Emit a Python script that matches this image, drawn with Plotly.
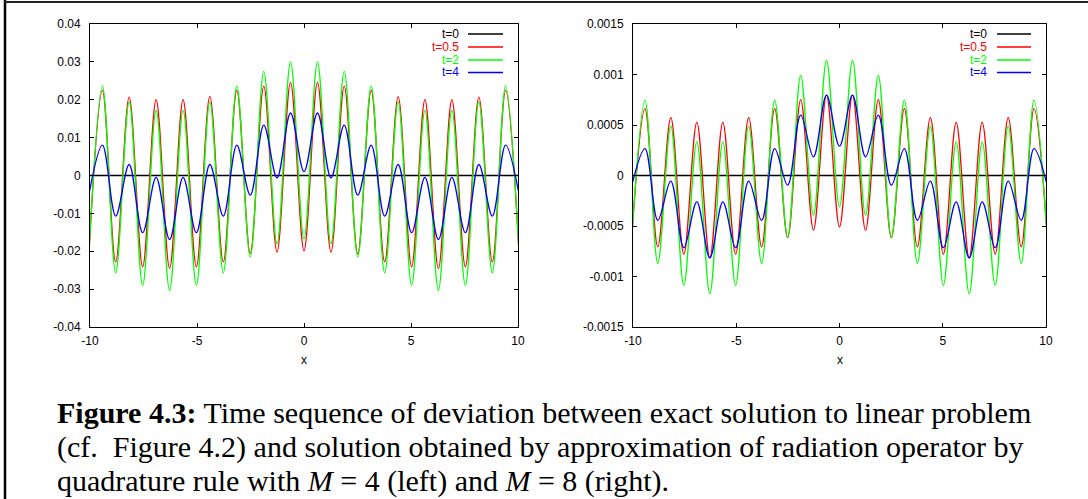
import plotly.graph_objects as go

# ---------------- data (extrema) ----------------
x_ext = [-10.05, -9.42, -8.80, -8.17, -7.54, -6.91, -6.28, -5.65, -5.03, -4.40,
         -3.77, -3.14, -2.51, -1.88, -1.26, -0.63, 0.0, 0.63, 1.26, 1.88,
         2.51, 3.14, 3.77, 4.40, 5.03, 5.65, 6.28, 6.91, 7.54, 8.17,
         8.80, 9.42, 10.05]

# left panel (M = 4)
left_t0 = [0.0] * 33
left_t05 = [-0.0205, 0.0225, -0.0228, 0.0207, -0.0241, 0.0200, -0.0245, 0.0200, -0.0241, 0.0209,
            -0.0228, 0.0225, -0.0205, 0.0236, -0.0202, 0.0246, -0.0199, 0.0246, -0.0202, 0.0236,
            -0.0207, 0.0225, -0.0228, 0.0208, -0.0241, 0.0200, -0.0246, 0.0200, -0.0241, 0.0207,
            -0.0228, 0.0225, -0.0205]
left_t2 = [-0.0205, 0.0236, -0.0257, 0.0194, -0.0290, 0.0172, -0.0303, 0.0172, -0.0290, 0.0194,
           -0.0257, 0.0236, -0.0215, 0.0275, -0.0180, 0.0300, -0.0167, 0.0300, -0.0180, 0.0275,
           -0.0215, 0.0236, -0.0257, 0.0194, -0.0290, 0.0172, -0.0303, 0.0172, -0.0290, 0.0194,
           -0.0257, 0.0236, -0.0205]
left_t4 = [-0.0050, 0.0080, -0.0107, 0.0029, -0.0151, -0.0005, -0.0169, -0.0005, -0.0151, 0.0029,
           -0.0107, 0.0080, -0.0052, 0.0133, -0.0006, 0.0165, 0.0010, 0.0165, -0.0006, 0.0133,
           -0.0052, 0.0080, -0.0107, 0.0029, -0.0151, -0.0005, -0.0169, -0.0005, -0.0151, 0.0029,
           -0.0107, 0.0080, -0.0050]

# right panel (M = 8)
right_t0 = [0.0] * 33
right_t05 = [-0.00057, 0.000663, -0.000706, 0.000574, -0.000779, 0.000525, -0.000815, 0.000525, -0.000779, 0.000574,
             -0.000706, 0.000663, -0.000614, 0.000752, -0.000541, 0.000795, -0.000508, 0.000795, -0.000541, 0.000752,
             -0.000614, 0.000663, -0.000706, 0.000574, -0.000779, 0.000525, -0.000815, 0.000525, -0.000779, 0.000574,
             -0.000706, 0.000663, -0.00057]
right_t2 = [-0.00059, 0.000746, -0.000871, 0.000488, -0.001086, 0.000333, -0.00117, 0.000333, -0.001086, 0.000488,
            -0.000871, 0.000746, -0.000614, 0.00099, -0.000393, 0.00114, -0.00031, 0.00114, -0.000393, 0.00099,
            -0.000614, 0.000746, -0.000871, 0.000488, -0.001086, 0.000333, -0.00117, 0.000333, -0.001086, 0.000488,
            -0.000871, 0.000746, -0.00059]
right_t4 = [-0.00009, 0.000267, -0.000443, -0.000056, -0.000715, -0.000261, -0.000816, -0.000261, -0.000715, -0.000056,
            -0.000443, 0.000267, -0.000096, 0.000597, 0.000185, 0.000795, 0.00029, 0.000795, 0.000185, 0.000597,
            -0.000096, 0.000267, -0.000443, -0.000056, -0.000715, -0.000261, -0.000816, -0.000261, -0.000715, -0.000056,
            -0.000443, 0.000267, -0.00009]

series_names = ["t=0", "t=0.5", "t=2", "t=4"]
series_colors = ["#000000", "#ff0000", "#00ff00", "#0000ff"]

x_tickvals = [-10, -5, 0, 5, 10]
x_ticktext = ["-10", "-5", "0", "5", "10"]
left_tickvals = [0.04, 0.03, 0.02, 0.01, 0, -0.01, -0.02, -0.03, -0.04]
left_ticktext = ["0.04", "0.03", "0.02", "0.01", "0", "-0.01", "-0.02", "-0.03", "-0.04"]
right_tickvals = [0.0015, 0.001, 0.0005, 0, -0.0005, -0.001, -0.0015]
right_ticktext = ["0.0015", "0.001", "0.0005", "0", "-0.0005", "-0.001", "-0.0015"]

caption_lines = [
    "<b>Figure 4.3:</b> Time sequence of deviation between exact solution to linear problem",
    "(cf.  Figure 4.2) and solution obtained by approximation of radiation operator by",
    "quadrature rule with <i>M</i> = 4 (left) and <i>M</i> = 8 (right).",
]

# ---------------- layout helpers ----------------
W, H = 1088, 499
def px(x):
    return x / W
def py(y):
    return 1 - y / H

fig = go.Figure()

left_series = [left_t0, left_t05, left_t2, left_t4]
right_series = [right_t0, right_t05, right_t2, right_t4]

for vals, name, col in zip(left_series, series_names, series_colors):
    fig.add_trace(go.Scatter(x=x_ext, y=vals, mode="lines", name=name,
                             line=dict(color=col, width=1.3, shape="spline", smoothing=1.0),
                             xaxis="x", yaxis="y", showlegend=False, hoverinfo="skip"))
for vals, name, col in zip(right_series, series_names, series_colors):
    fig.add_trace(go.Scatter(x=x_ext, y=vals, mode="lines", name=name,
                             line=dict(color=col, width=1.3, shape="spline", smoothing=1.0),
                             xaxis="x2", yaxis="y2", showlegend=False, hoverinfo="skip"))

tickfont = dict(family="Liberation Sans, Arial, sans-serif", size=12, color="black")
axis_common = dict(showline=True, linecolor="black", linewidth=1, mirror="allticks",
                   ticks="inside", ticklen=4, tickcolor="black", tickwidth=1,
                   showgrid=False, zeroline=False, tickfont=tickfont, fixedrange=True,
                   automargin=False)

fig.update_layout(
    template="none",
    width=W, height=H, autosize=False,
    margin=dict(l=0, r=0, t=0, b=0, pad=0),
    paper_bgcolor="white", plot_bgcolor="white",
    xaxis=dict(domain=[px(90), px(518)], range=[-10, 10], anchor="y",
               tickvals=x_tickvals, ticktext=x_ticktext, ticklabelstandoff=3, **axis_common),
    yaxis=dict(domain=[py(327), py(24)], range=[-0.04, 0.04], anchor="x",
               tickvals=left_tickvals, ticktext=left_ticktext, ticklabelstandoff=6, **axis_common),
    xaxis2=dict(domain=[px(633), px(1046)], range=[-10, 10], anchor="y2",
                tickvals=x_tickvals, ticktext=x_ticktext, ticklabelstandoff=3, **axis_common),
    yaxis2=dict(domain=[py(327), py(24)], range=[-0.0015, 0.0015], anchor="x2",
                tickvals=right_tickvals, ticktext=right_ticktext, ticklabelstandoff=6, **axis_common),
)

annotations = []
shapes = []

# axis titles
for cx in [(90 + 518) / 2, (633 + 1046) / 2]:
    annotations.append(dict(x=px(cx), y=py(360), xref="paper", yref="paper", text="x",
                            showarrow=False, xanchor="center", yanchor="middle",
                            font=dict(family="Liberation Sans, Arial, sans-serif", size=12, color="black")))

# legends (gnuplot style: text then line sample)
legend_rows = [34, 47, 60, 72.5]
for text_right, l0, l1 in [(460, 468, 503), (988, 997, 1031)]:
    for name, col, yy in zip(series_names, series_colors, legend_rows):
        annotations.append(dict(x=px(text_right), y=py(yy), xref="paper", yref="paper", text=name,
                                showarrow=False, xanchor="right", yanchor="middle",
                                height=12, borderpad=0,
                                font=dict(family="Liberation Sans, Arial, sans-serif", size=12, color=col)))
        shapes.append(dict(type="line", xref="paper", yref="paper", x0=px(l0), x1=px(l1),
                           y0=py(yy), y1=py(yy), line=dict(color=col, width=1.3)))

# caption
for line, yy in zip(caption_lines, [412, 447, 481]):
    annotations.append(dict(x=px(55), y=py(yy), xref="paper", yref="paper", text=line,
                            showarrow=False, xanchor="left", yanchor="middle",
                            font=dict(family="Liberation Serif, Times New Roman, serif", size=30, color="black")))

# page frame
shapes.append(dict(type="line", xref="paper", yref="paper", x0=px(5), x1=px(5), y0=0, y1=1,
                   line=dict(color="black", width=2.5)))
shapes.append(dict(type="line", xref="paper", yref="paper", x0=px(4), x1=1, y0=py(2), y1=py(2),
                   line=dict(color="#222222", width=2)))

fig.update_layout(annotations=annotations, shapes=shapes)

fig.write_html("out.html")
